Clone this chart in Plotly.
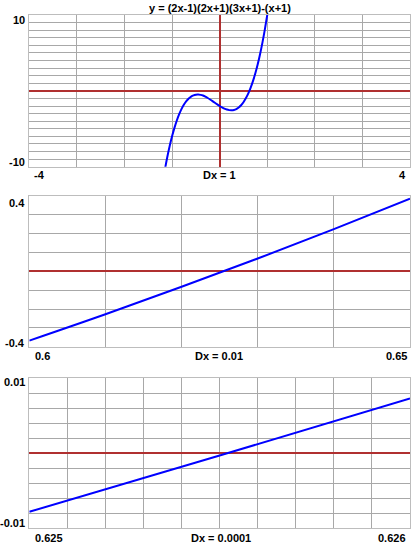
import plotly.graph_objects as go

W, H = 415, 543

# ---- data ----
title_text = "y = (2x-1)(2x+1)(3x+1)-(x+1)"

x1 = [-1.15, -1.10, -1.05, -1.00, -0.95, -0.90, -0.85, -0.80, -0.75, -0.70, -0.65, -0.60,
      -0.55, -0.50, -0.45, -0.40, -0.35, -0.30, -0.25, -0.20, -0.15, -0.10, -0.05, 0.00,
      0.05, 0.10, 0.15, 0.20, 0.25, 0.30, 0.35, 0.40, 0.45, 0.50, 0.55, 0.60, 0.65, 0.70,
      0.75, 0.80, 0.85, 0.90, 0.95, 1.00, 1.05]
y1 = [-10.36, -8.73, -7.28, -6.00, -4.88, -3.91, -3.08, -2.38, -1.81, -1.36, -1.01, -0.75,
      -0.59, -0.50, -0.48, -0.53, -0.62, -0.76, -0.94, -1.14, -1.35, -1.57, -1.79, -2.00,
      -2.19, -2.35, -2.47, -2.54, -2.56, -2.52, -2.40, -2.19, -1.90, -1.50, -0.99, -0.37, 0.39, 1.28,
      2.31, 3.50, 4.86, 6.39, 8.10, 10.00, 12.10]

x2 = [0.60, 0.61, 0.62, 0.63, 0.64, 0.65]
y2 = [-0.368, -0.228, -0.082, 0.068, 0.224, 0.386]

x3 = [0.6250, 0.6255, 0.6260]
y3 = [-0.0078, -0.0003, 0.0073]

panels = [
    dict(x=x1, y=y1, xr=[-4, 4], yr=[-10, 10], dx=1, dy=1,
         ylab=["10", "-10"], xlab=["-4", "Dx = 1", "4"]),
    dict(x=x2, y=y2, xr=[0.6, 0.65], yr=[-0.4, 0.4], dx=0.01, dy=0.1,
         ylab=["0.4", "-0.4"], xlab=["0.6", "Dx = 0.01", "0.65"]),
    dict(x=x3, y=y3, xr=[0.625, 0.626], yr=[-0.01, 0.01], dx=0.0001, dy=0.002,
         ylab=["0.01", "-0.01"], xlab=["0.625", "Dx = 0.0001", "0.626"]),
]

# pixel layout
PL, PR = 29.3, 410.0
tops = [15.0, 196.0, 378.3]
bottoms = [166.7, 346.7, 528.3]
ylab_y = [(20.5, 161.5), (202.7, 343.3), (381.7, 523.3)]
xlab_y = [175.0, 356.0, 537.7]
xlab_x = [(32.3, 219.0, 407.5), (33.3, 219.0, 408.5), (33.3, 220.5, 408.3)]


def px(v):
    return v / W


def py(v):
    return 1 - v / H


FONT = dict(family="Liberation Sans, Arial, sans-serif", size=11, color="#000000")
GRID = "#a8a8a8"
RED = "#b03030"
BORDER = "#bdbdbd"

fig = go.Figure()
layout = dict(width=W, height=H, margin=dict(l=0, r=0, t=0, b=0),
              paper_bgcolor="white", plot_bgcolor="white", showlegend=False)
annotations = []

for i, p in enumerate(panels):
    n = "" if i == 0 else str(i + 1)
    fig.add_trace(go.Scatter(x=p["x"], y=p["y"], mode="lines",
                             line=dict(color="#0000ff", width=2, shape="spline"),
                             xaxis="x" + n, yaxis="y" + n, hoverinfo="skip"))
    layout["xaxis" + n] = dict(domain=[px(PL), px(PR)], range=p["xr"], anchor="y" + n,
                               dtick=p["dx"], tick0=p["xr"][0], showgrid=True,
                               gridcolor=GRID, gridwidth=1, showticklabels=False,
                               ticks="", zeroline=True, zerolinecolor=RED, zerolinewidth=2,
                               showline=True, mirror=True, linecolor=BORDER, linewidth=1,
                               fixedrange=True)
    layout["yaxis" + n] = dict(domain=[py(bottoms[i]), py(tops[i])], range=p["yr"],
                               anchor="x" + n, dtick=p["dy"], tick0=p["yr"][0],
                               showgrid=True, gridcolor=GRID, gridwidth=1,
                               showticklabels=False, ticks="", zeroline=True,
                               zerolinecolor=RED, zerolinewidth=2, showline=True,
                               mirror=True, linecolor=BORDER, linewidth=1, fixedrange=True)
    # y labels
    for lab, yy in zip(p["ylab"], ylab_y[i]):
        annotations.append(dict(text="<b>%s</b>" % lab, x=px(27), y=py(yy), xref="paper",
                                yref="paper", xanchor="right", yanchor="middle",
                                showarrow=False, font=FONT))
    # x labels
    anchors = ["left", "center", "right"]
    for lab, xx, an in zip(p["xlab"], xlab_x[i], anchors):
        annotations.append(dict(text="<b>%s</b>" % lab, x=px(xx), y=py(xlab_y[i]),
                                xref="paper", yref="paper", xanchor=an, yanchor="middle",
                                showarrow=False, font=FONT))

annotations.append(dict(text="<b>%s</b>" % title_text, x=px(219.5), y=py(7.5), xref="paper",
                        yref="paper", xanchor="center", yanchor="middle", showarrow=False,
                        font=FONT))
layout["annotations"] = annotations
fig.update_layout(**layout)
fig.write_html("out.html", config=dict(displayModeBar=False),
               post_script="document.body.style.margin='0';document.body.style.overflow='hidden';")
